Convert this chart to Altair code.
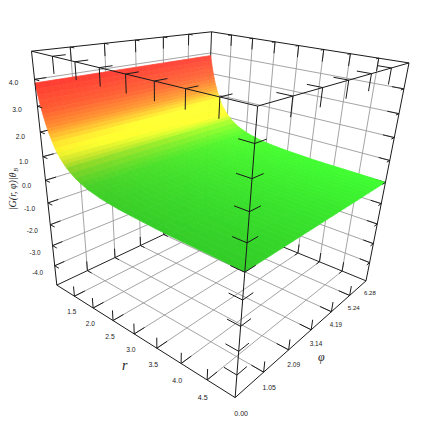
import altair as alt
import numpy as np
import pandas as pd

# axis values
r_ticks = [1.5, 2.0, 2.5, 3.0, 3.5, 4.0, 4.5]
phi_ticks = [1.05, 2.09, 3.14, 4.19, 5.24]
z_ticks = [-4.0, -3.0, -2.0, -1.0, 0.0, 1.0, 2.0, 3.0, 4.0]

# surface height read along r (independent of phi)
surf_r = [1.00, 1.02, 1.04, 1.06, 1.08, 1.10, 1.12, 1.14, 1.16, 1.18, 1.20, 1.22, 1.24, 1.27, 1.30, 1.35, 1.40, 1.45, 1.50,
          1.55, 1.60, 1.70, 1.80, 1.90, 2.00, 2.10, 2.20, 2.35, 2.50, 2.75, 3.00, 3.25, 3.50, 3.75,
          4.00, 4.50, 5.00]
surf_z = [3.87, 3.65, 3.44, 3.25, 3.07, 2.91, 2.75, 2.61, 2.48, 2.36, 2.24, 2.13, 2.03, 1.89, 1.76, 1.55, 1.40, 1.26, 1.14,
          1.04, 0.94, 0.79, 0.66, 0.57, 0.49, 0.42, 0.37, 0.30, 0.25, 0.19, 0.15, 0.12, 0.09, 0.07,
          0.06, 0.04, 0.01]
surf_phi = [0.0, 0.21, 0.42, 0.63, 0.84, 1.05, 1.26, 1.47, 1.68, 1.89, 2.10, 2.31, 2.52, 2.73, 2.94, 3.15,
            3.36, 3.57, 3.78, 3.99, 4.20, 4.41, 4.62, 4.83, 5.04, 5.25, 5.46, 5.67, 5.88, 6.09, 6.28]

# colour ramp against height
ramp_z = [0.0, 0.45, 0.86, 1.1, 1.4, 1.7, 2.3, 2.9, 3.87]
ramp_rgb = [(50, 205, 40), (70, 208, 40), (136, 213, 40), (200, 225, 42), (250, 248, 45), (255, 228, 47),
            (255, 140, 47), (255, 92, 50), (255, 58, 50)]
light = 0.24

# camera fitted to the box
CAM = np.array([[123.51203, 208.88066, -31.25639, 56.81691],
                [19.84547, -6.32052, -243.51509, 285.08111],
                [-0.2331, 0.29646, -0.18819, 1.0]])

W, H = 420, 420
OX, OY = 8, 8


def norm(r, p, z):
    return (r - 1.0) / 4.0, p / 6.28, (z + 5.0) / 10.0


def proj(u, v, w):
    h = CAM @ np.array([u, v, w, 1.0])
    return h[0] / h[2], h[1] / h[2], h[2]


seg_rows = []


def seg(layer, a, b, kind):
    x1, y1, _ = proj(*a)
    x2, y2, _ = proj(*b)
    seg_rows.append(dict(layer=layer, kind=kind, x=x1, y=y1, x2=x2, y2=y2))


RU = [norm(r, 0, 0)[0] for r in r_ticks]
PV = [norm(1, p, 0)[1] for p in phi_ticks]
ZW = [norm(1, 0, z)[2] for z in z_ticks]

# walls and floor grid
for u in RU:
    seg("back", (u, 1, 0), (u, 1, 1), "grid")
    seg("back", (u, 0, 0), (u, 1, 0), "grid")
for v in PV:
    seg("back", (0, v, 0), (0, v, 1), "grid")
    seg("back", (0, v, 0), (1, v, 0), "grid")
for w in ZW:
    seg("back", (0, 0, w), (0, 1, w), "grid")
    seg("back", (0, 1, w), (1, 1, w), "grid")

# box edges behind the surface
seg("back", (0, 1, 0), (0, 1, 1), "edge")
seg("back", (0, 0, 0), (0, 1, 0), "edge")
seg("back", (0, 1, 0), (1, 1, 0), "edge")
# back ticks
for v in PV:
    seg("back", (0, v, 0), (0, v, 0.05), "tick")
    seg("back", (0, v, 0), (0.03, v, 0), "tick")
    seg("back", (0, v, 1), (0, v, 0.95), "tick")
    seg("back", (0, v, 1), (0.025, v, 1), "tick")
for u in RU:
    seg("back", (u, 1, 0), (u, 1, 0.05), "tick")
    seg("back", (u, 1, 0), (u, 0.97, 0), "tick")
    seg("back", (u, 1, 1), (u, 1, 0.95), "tick")
    seg("back", (u, 1, 1), (u, 0.975, 1), "tick")
for w in ZW:
    seg("back", (0, 0, w), (0, 0.05, w), "tick")
    seg("back", (1, 1, w), (0.95, 1, w), "tick")

# box edges in front of the surface
for a, b in [((0, 0, 1), (1, 0, 1)), ((1, 0, 1), (1, 1, 1)), ((1, 1, 1), (0, 1, 1)), ((0, 1, 1), (0, 0, 1)),
             ((0, 0, 0), (0, 0, 1)), ((1, 0, 0), (1, 0, 1)), ((1, 1, 0), (1, 1, 1)),
             ((0, 0, 0), (1, 0, 0)), ((1, 0, 0), (1, 1, 0))]:
    seg("front", a, b, "edge")
for u in RU:
    seg("front", (u, 0, 1), (u, 0, 0.94), "tick")
    seg("front", (u, 0, 1), (u, 0.055, 1), "tick")
    seg("front", (u, 0, 0), (u, 0, 0.05), "tick")
    seg("front", (u, 0, 0), (u, 0.055, 0), "tick")
for v in PV:
    seg("front", (1, v, 1), (1, v, 0.94), "tick")
    seg("front", (1, v, 1), (0.945, v, 1), "tick")
    seg("front", (1, v, 0), (1, v, 0.05), "tick")
    seg("front", (1, v, 0), (0.945, v, 0), "tick")
for w in ZW:
    seg("front", (1, 0, w), (0.945, 0, w), "tick")
    seg("front", (1, 0, w), (1, 0.055, w), "tick")
    seg("front", (0, 0, w), (0.03, 0, w), "tick")
    seg("front", (1, 1, w), (1, 0.97, w), "tick")

segs = pd.DataFrame(seg_rows)


def colour(z, v):
    rgb = [np.interp(z, ramp_z, [c[i] for c in ramp_rgb]) for i in range(3)]
    f = 1 + light * v
    return "#%02x%02x%02x" % tuple(int(min(255, c * f)) for c in rgb)


features = []
for i in range(len(surf_r) - 1):
    for j in range(len(surf_phi) - 1):
        corners = [(surf_r[i], surf_phi[j], surf_z[i]), (surf_r[i], surf_phi[j + 1], surf_z[i]),
                   (surf_r[i + 1], surf_phi[j + 1], surf_z[i + 1]), (surf_r[i + 1], surf_phi[j], surf_z[i + 1])]
        ring = []
        for r, p, z in corners:
            x, y, _ = proj(*norm(r, p, z))
            ring.append([x - OX, y - OY])
        ring.append(ring[0])
        c = colour((surf_z[i] + surf_z[i + 1]) / 2, (surf_phi[j] + surf_phi[j + 1]) / 12.56)
        features.append(dict(type="Feature", geometry=dict(type="Polygon", coordinates=[ring]),
                             properties=dict(c=c)))

# labels
label_rows = []


def lab(text, u, v, w, k):
    x, y, q = proj(u, v, w)
    label_rows.append(dict(t=text, x=x, y=y, s=k / q ** 0.5))


for z in z_ticks:
    lab("%.1f" % z, 0, -0.085, norm(1, 0, z)[2], 6.2)
for r in r_ticks:
    lab("%.1f" % r, norm(r, 0, 0)[0], -0.02, -0.07, 6.4)
for p in [0.0] + phi_ticks + [6.28]:
    lab("%.2f" % p, 1.03, p / 6.28, -0.055, 6.2)
labels = pd.DataFrame(label_rows)

xs = alt.Scale(domain=[OX, OX + W], range=[0, W])
ys = alt.Scale(domain=[OY, OY + H], range=[0, H])
X = alt.X("x:Q", scale=xs, axis=None)
Y = alt.Y("y:Q", scale=ys, axis=None)


def lines(layer, kind, color, width):
    d = segs[(segs.layer == layer) & (segs.kind == kind)]
    return alt.Chart(d).mark_rule(color=color, strokeWidth=width).encode(X, Y, x2="x2:Q", y2="y2:Q")


surface = alt.Chart(alt.Data(values=features)).mark_geoshape(strokeWidth=0.7).encode(
    fill=alt.Fill("properties.c:N", scale=None),
    stroke=alt.Stroke("properties.c:N", scale=None),
).project(type="identity", scale=1, translate=[0, 0])

tick_labels = alt.Chart(labels).mark_text(font="Liberation Sans", color="#222222").encode(
    X, Y, text="t:N", size=alt.Size("s:Q", scale=None))


def title(text, u, v, w, size, font, angle=0, align="center"):
    x, y, _ = proj(u, v, w)
    d = pd.DataFrame([dict(t=text, x=x, y=y)])
    return alt.Chart(d).mark_text(font=font, fontSize=size, fontStyle="italic", baseline="middle",
                                  color="#222222", angle=angle, align=align).encode(X, Y, text="t:N")


chart = alt.layer(
    lines("back", "grid", "#9a9a9a", 0.9),
    lines("back", "edge", "#222222", 1.0),
    lines("back", "tick", "#222222", 1.0),
    surface,
    lines("front", "edge", "#1a1a1a", 1.0),
    lines("front", "tick", "#1a1a1a", 1.0),
    tick_labels,
    title("r", 0.5, -0.055, -0.125, 14, "Liberation Serif"),
    title("\u03c6", 1.08, 0.46, -0.07, 12, "Liberation Serif"),
    title("|G(r, \u03c6)|\u03b8", 0, -0.135, 0.57, 10, "Liberation Serif", angle=270, align="right"),
    title("B", 0, -0.122, 0.57, 6, "Liberation Serif", angle=270, align="left"),
).properties(width=W, height=H, padding=0, autosize=alt.AutoSizeParams(type="none")).configure_view(stroke=None)

chart.save("out.html", embed_options={"renderer": "svg", "actions": False})
